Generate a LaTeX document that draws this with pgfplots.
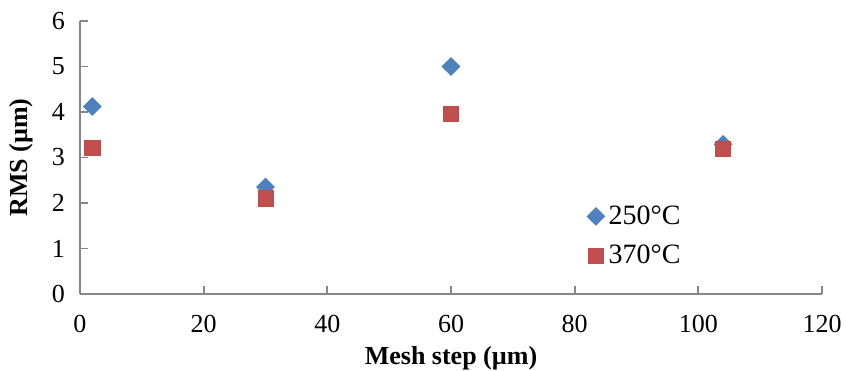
\documentclass[border=0pt]{standalone}
\usepackage{pgfplots}
\pgfplotsset{compat=1.18}
\usepackage{fontspec}
\setmainfont{Liberation Serif}
\definecolor{blueS}{HTML}{4F81BD}
\definecolor{blueE}{HTML}{4A7EBB}
\definecolor{redS}{HTML}{C0504D}
\definecolor{redE}{HTML}{BE4B48}
\definecolor{axgray}{HTML}{868686}
\begin{document}
\begin{tikzpicture}
\useasboundingbox (-40pt,-38pt) rectangle (383pt,147pt);
\begin{axis}[
  at={(0,0)}, anchor=south west,
  scale only axis, width=371pt, height=136.5pt,
  xmin=0, xmax=120, ymin=0, ymax=6,
  xtick={0,20,...,120}, ytick={0,1,...,6},
  axis lines*=left,
  axis line style={draw=axgray, line width=0.9pt},
  tick style={draw=axgray, line width=0.9pt},
  tick align=inside, major tick length=4pt,
  /pgf/number format/assume math mode=true,
  ticklabel style={font=\fontsize{13}{15}\selectfont},
  xticklabel style={yshift=-7pt},
  yticklabel style={xshift=-4pt},
  xlabel={\textbf{Mesh step (µm)}},
  ylabel={\textbf{RMS (µm)}},
  label style={font=\fontsize{13}{15}\selectfont},
  xlabel style={at={(axis description cs:0.5,0)}, anchor=north, yshift=-22.5pt},
  ylabel style={at={(axis description cs:0,0.5)}, anchor=south, yshift=20pt},
  legend style={at={(axis description cs:0.683,0.34)}, anchor=north west, draw=none, fill=none,
    font=\fontsize{14}{16}\selectfont, row sep=5pt, inner sep=0pt},
  legend cell align=left,
  legend image code/.code={\draw[#1] plot coordinates {(0.2cm,0cm)};},
  clip=false,
]
\addplot[only marks, mark=square*, mark size=3.1pt, mark options={fill=blueS, draw=blueE, rotate=45}]
  coordinates {(2,4.12) (30,2.35) (60,5.0) (104,3.29)};
\addlegendentry{250°C}
\addplot[only marks, mark=square*, mark size=3.8pt, mark options={fill=redS, draw=redE}]
  coordinates {(2,3.21) (30,2.10) (60,3.96) (104,3.19)};
\addlegendentry{370°C}
\end{axis}
\end{tikzpicture}
\end{document}
